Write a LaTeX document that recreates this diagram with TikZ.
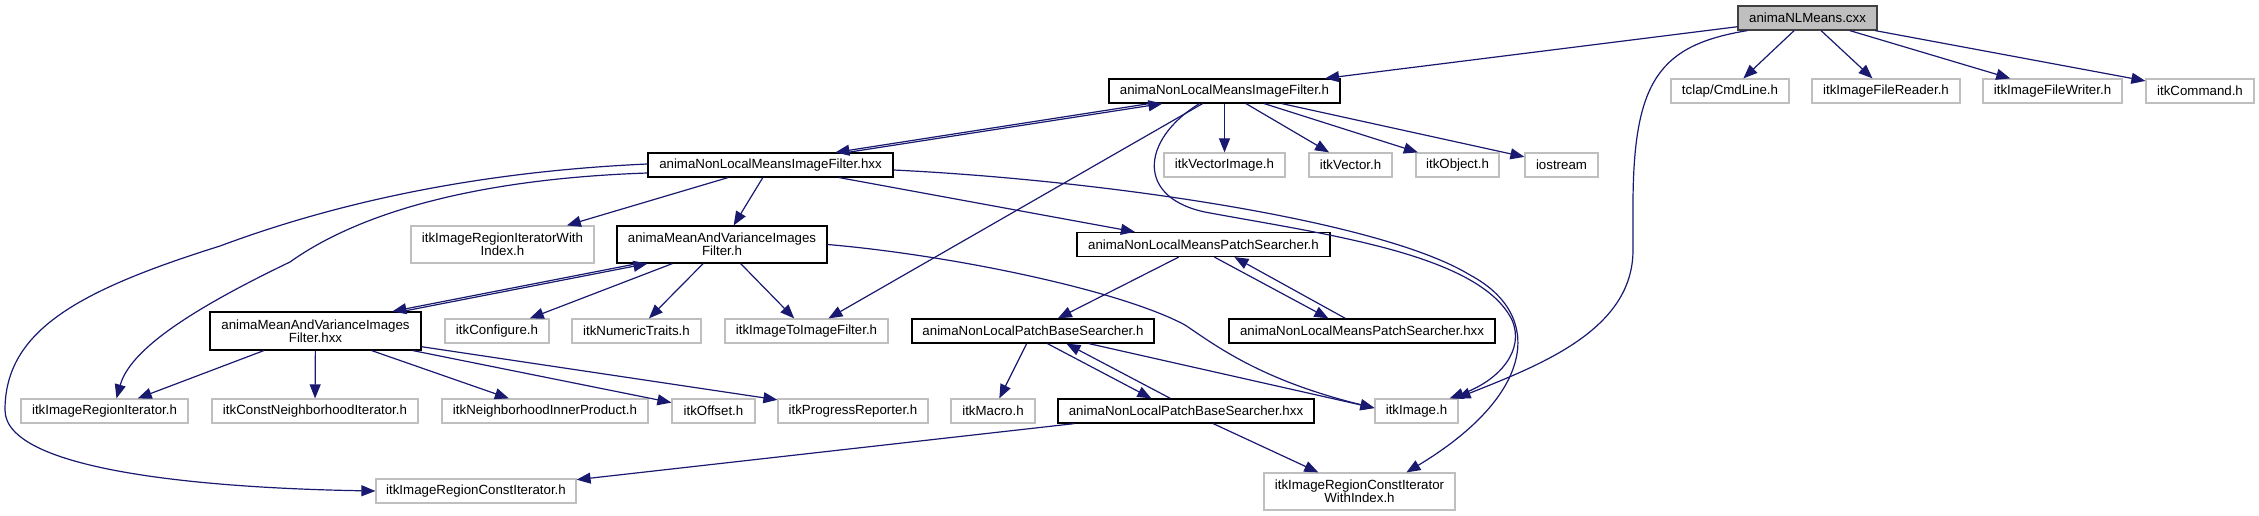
\documentclass[tikz,border=0pt]{standalone}
\usepackage{fontspec}
\setmainfont{Liberation Sans}
\usetikzlibrary{arrows.meta}
\definecolor{edgecol}{HTML}{191970}
\definecolor{greyborder}{HTML}{BFBFBF}
\definecolor{rootfill}{HTML}{BFBFBF}
\definecolor{rootborder}{HTML}{404040}
\tikzset{
 basebox/.style={rectangle, inner sep=0pt, minimum height=24pt, align=center, font=\fontsize{13.3}{13}\selectfont, line width=1.2pt},
 abox/.style={basebox, draw=black, fill=white},
 gbox/.style={basebox, draw=greyborder, fill=white},
 rootbox/.style={basebox, draw=rootborder, fill=rootfill},
 edge/.style={draw=edgecol, line width=1.2pt, -{Triangle[length=14pt,width=11pt]}},
}
\begin{document}
\begin{tikzpicture}[x=1pt,y=-1pt]
\useasboundingbox (0,0) rectangle (2259,516);
% nodes
\node[rootbox, minimum width=139] (cxx) at (1807.5,18) {animaNLMeans.cxx};
\node[abox, minimum width=231] (ifh) at (1224.5,91) {animaNonLocalMeansImageFilter.h};
\node[gbox, minimum width=118] (tclap) at (1730,91) {tclap/CmdLine.h};
\node[gbox, minimum width=148] (reader) at (1886,91) {itkImageFileReader.h};
\node[gbox, minimum width=139] (writer) at (2052.5,91) {itkImageFileWriter.h};
\node[gbox, minimum width=108] (command) at (2200,91) {itkCommand.h};
\node[abox, minimum width=245] (ifhxx) at (770.5,165) {animaNonLocalMeansImageFilter.hxx};
\node[gbox, minimum width=121] (vecimg) at (1224.5,165) {itkVectorImage.h};
\node[gbox, minimum width=83] (vector) at (1350.5,165) {itkVector.h};
\node[gbox, minimum width=83] (object) at (1457.5,165) {itkObject.h};
\node[gbox, minimum width=73] (iostream) at (1561.5,165) {iostream};
\node[gbox, minimum width=183, minimum height=37] (regiterwi) at (502.5,244.5) {itkImageRegionIteratorWith\\Index.h};
\node[abox, minimum width=210, minimum height=37] (mvh) at (722,244.5) {animaMeanAndVarianceImages\\Filter.h};
\node[abox, minimum width=253] (nlpsh) at (1203.5,244.5) {animaNonLocalMeansPatchSearcher.h};
\node[abox, minimum width=211, minimum height=38] (mvhxx) at (315.5,331) {animaMeanAndVarianceImages\\Filter.hxx};
\node[gbox, minimum width=104] (configure) at (497,331) {itkConfigure.h};
\node[gbox, minimum width=129] (numtraits) at (636.5,331) {itkNumericTraits.h};
\node[gbox, minimum width=163] (imgtoimg) at (806.5,331) {itkImageToImageFilter.h};
\node[abox, minimum width=242] (pbsh) at (1033,331) {animaNonLocalPatchBaseSearcher.h};
\node[abox, minimum width=266] (nlpshxx) at (1362,331) {animaNonLocalMeansPatchSearcher.hxx};
\node[gbox, minimum width=167] (regiter) at (104.5,411) {itkImageRegionIterator.h};
\node[gbox, minimum width=206] (constnbh) at (315,411) {itkConstNeighborhoodIterator.h};
\node[gbox, minimum width=206] (nbhinner) at (545,411) {itkNeighborhoodInnerProduct.h};
\node[gbox, minimum width=83] (offset) at (713.5,411) {itkOffset.h};
\node[gbox, minimum width=150] (progress) at (853,411) {itkProgressReporter.h};
\node[gbox, minimum width=84] (macro) at (993,411) {itkMacro.h};
\node[abox, minimum width=256] (pbshxx) at (1186,411) {animaNonLocalPatchBaseSearcher.hxx};
\node[gbox, minimum width=83] (image) at (1416.5,411) {itkImage.h};
\node[gbox, minimum width=200] (regconst) at (476,491) {itkImageRegionConstIterator.h};
\node[gbox, minimum width=191, minimum height=37] (regconstwi) at (1359.5,491.5) {itkImageRegionConstIterator\\WithIndex.h};
% edges from cxx
\draw[edge] (cxx) -- (ifh);
\draw[edge] (cxx) -- (tclap);
\draw[edge] (cxx) -- (reader);
\draw[edge] (cxx) -- (writer);
\draw[edge] (cxx) -- (command);
\draw[edge] ([xshift=10pt]cxx.south west) .. controls (1660,45) and (1634,80) .. (1633,200) -- (1633,250) .. controls (1633,330) and (1540,365) .. ([xshift=-2pt]image.north east);
% edges from ifh
\draw[edge] ([xshift=41pt]ifh.south west) -- ([xshift=188pt]ifhxx.north west);
\draw[edge] ([xshift=200pt]ifhxx.north west) -- ([xshift=54pt]ifh.south west);
\draw[edge] (ifh) -- (imgtoimg);
\draw[edge] (ifh) -- (vecimg);
\draw[edge] (ifh) -- (vector);
\draw[edge] (ifh) -- (object);
\draw[edge] (ifh) -- (iostream);
\draw[edge] ([xshift=91pt]ifh.south west) .. controls (1140,140) and (1135,200) .. (1210,213) .. controls (1330,235) and (1480,255) .. (1512,320) .. controls (1525,350) and (1500,380) .. ([xshift=-9pt]image.north east);
% edges from ifhxx
\draw[edge] (ifhxx) -- (regiterwi);
\draw[edge] (ifhxx) -- (mvh);
\draw[edge] (ifhxx) -- (nlpsh);
\draw[edge] ([yshift=-8pt]ifhxx.west) .. controls (500,178) and (370,205) .. (290,262) .. controls (190,310) and (130,350) .. ([xshift=12pt]regiter.north);
\draw[edge] ([yshift=1pt]ifhxx.west) .. controls (470,172) and (330,205) .. (220,246) .. controls (80,290) and (5,330) .. (5,410) .. controls (5,470) and (200,488) .. (regconst.west);
\draw[edge] ([yshift=-5pt]ifhxx.east) .. controls (1100,180) and (1380,220) .. (1470,275) .. controls (1545,315) and (1535,395) .. ([xshift=143pt]regconstwi.north west);
% edges from mvh
\draw[edge] ([xshift=21pt]mvh.south west) -- ([xshift=183pt]mvhxx.north west);
\draw[edge] ([xshift=193pt]mvhxx.north west) -- ([xshift=31pt]mvh.south west);
\draw[edge] (mvh) -- (configure);
\draw[edge] (mvh) -- (numtraits);
\draw[edge] (mvh) -- (imgtoimg);
\draw[edge] (mvh.east) .. controls (950,255) and (1120,290) .. (1185,325) .. controls (1215,345) and (1260,380) .. ([yshift=3pt]image.west);
% edges from mvhxx
\draw[edge] (mvhxx) -- (regiter);
\draw[edge] (mvhxx) -- (constnbh);
\draw[edge] (mvhxx) -- (nbhinner);
\draw[edge] (mvhxx) -- (offset);
\draw[edge] (mvhxx) -- (progress);
% edges from nlpsh
\draw[edge] (nlpsh) -- (pbsh);
\draw[edge] ([xshift=138pt]nlpsh.south west) -- ([xshift=100pt]nlpshxx.north west);
\draw[edge] ([xshift=117pt]nlpshxx.north west) -- ([xshift=158pt]nlpsh.south west);
% edges from pbsh
\draw[edge] (pbsh) -- (macro);
\draw[edge] ([xshift=136pt]pbsh.south west) -- ([xshift=94pt]pbshxx.north west);
\draw[edge] ([xshift=113pt]pbshxx.north west) -- ([xshift=155pt]pbsh.south west);
\draw[edge] (pbsh) -- ([yshift=3pt]image.west);
% edges from pbshxx
\draw[edge] (pbshxx) -- (regconst);
\draw[edge] (pbshxx) -- (regconstwi);
\end{tikzpicture}
\end{document}
